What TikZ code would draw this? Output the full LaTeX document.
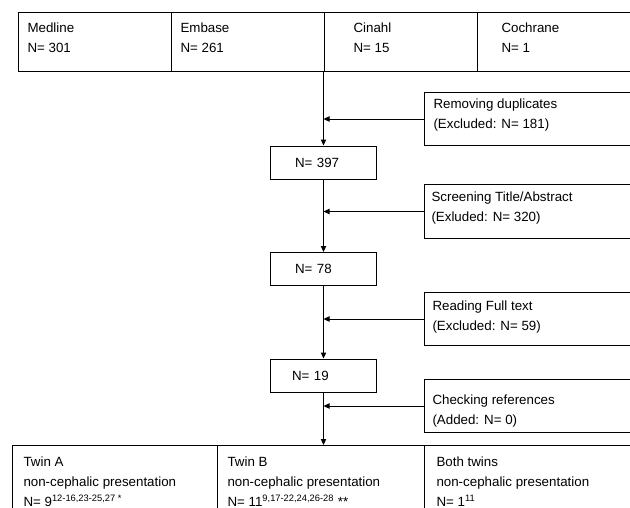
\documentclass[tikz,border=0pt]{standalone}
\usepackage{fontspec}
\setmainfont{Liberation Sans}
\usetikzlibrary{arrows.meta}

\tikzset{
  cell/.style={draw, rectangle, inner sep=0pt, anchor=north west},
  txt/.style={inner sep=0pt, anchor=north west, align=left, font=\fontsize{10}{15}\selectfont},
  nbox/.style={draw, rectangle, inner sep=0pt, minimum width=79.5pt, minimum height=24.75pt,
    text width=42.75pt, align=left, font=\fontsize{10}{15}\selectfont},
  arr/.style={-{Triangle[length=4.5pt,width=4pt]}},
}

\begin{document}
\begin{tikzpicture}[x=0.75pt, y=-0.75pt, line width=0.75pt]
    \clip (0,0) rectangle (630,507);

    % databases
    \node[cell, minimum width=114.75pt, minimum height=44.6pt] (medline) at (18,12) {};
    \node[cell, minimum width=114.375pt, minimum height=44.6pt] (embase) at (171,12) {};
    \node[cell, minimum width=115.125pt, minimum height=44.6pt] (cinahl) at (323.5,12) {};
    \node[cell, minimum width=136.5pt, minimum height=44.6pt] (cochrane) at (477,12) {};
    \node[txt] (medline-t) at (27,22.5) {Medline\\N= 301};
    \node[txt] (embase-t) at (180,22.5) {Embase\\N= 261};
    \node[txt] (cinahl-t) at (353,22.5) {Cinahl\\N= 15};
    \node[txt] (cochrane-t) at (501,22.5) {Cochrane\\N= 1};

    % main column
    \node[nbox] (n397) at (323.5,162.5) {N= 397};
    \node[nbox] (n78) at (323.5,269) {N= 78};
    \node[nbox, text width=47.25pt] (n19) at (323.5,375.5) {N= 19};

    % side boxes
    \node[cell, minimum width=177pt, minimum height=39.75pt] (dupl) at (424,92) {};
    \node[cell, minimum width=177pt, minimum height=40.5pt] (screen) at (424,184) {};
    \node[cell, minimum width=177pt, minimum height=39.75pt] (fulltext) at (424,292) {};
    \node[cell, minimum width=177pt, minimum height=39.75pt] (refs) at (424,379) {};
    \node[txt] (dupl-t) at (433,98.5) {Removing duplicates\\(Excluded: N= 181)};
    \node[txt] (screen-t) at (431,191.5) {Screening Title/Abstract\\(Exluded: N= 320)};
    \node[txt] (fulltext-t) at (432,300) {Reading Full text\\(Excluded: N= 59)};
    \node[txt] (refs-t) at (432,394) {Checking references\\(Added: N= 0)};

    % result
    \node[cell, minimum width=153.75pt, minimum height=67.5pt] (twina) at (12,445) {};
    \node[cell, minimum width=155.25pt, minimum height=67.5pt] (twinb) at (217,445) {};
    \node[cell, minimum width=177pt, minimum height=67.5pt] (both) at (424,445) {};
    \node[txt] (twina-t) at (23,456.5) {Twin A\\non-cephalic presentation\\N= 9\textsuperscript{12-16,23-25,27 *}};
    \node[txt] (twinb-t) at (227,456.5) {Twin B\\non-cephalic presentation\\N= 11\textsuperscript{9,17-22,24,26-28} **};
    \node[txt] (both-t) at (436,456.5) {Both twins\\non-cephalic presentation\\N= 1\textsuperscript{11}};

    \draw[arr] (cinahl.south west) -- (n397.north);
    \draw[arr] (n397.south) -- (n78.north);
    \draw[arr] (n78.south) -- (n19.north);
    \draw[arr] (n19.south) -- (n19.south |- twinb.north);

    \draw[arr] (dupl.west) -- (dupl.west -| n397.north);
    \draw[arr] (screen.west) -- (screen.west -| n397.north);
    \draw[arr] (fulltext.west) -- (fulltext.west -| n78.north);
    \draw[arr] (refs.west) -- (refs.west -| n19.north);
\end{tikzpicture}
\end{document}
